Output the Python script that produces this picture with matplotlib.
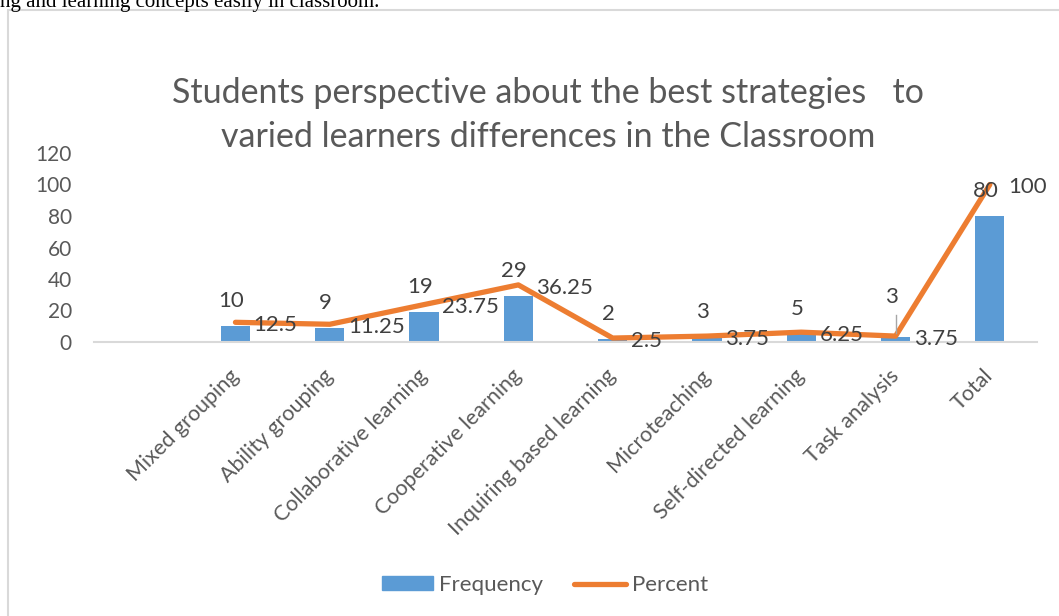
import matplotlib
matplotlib.use("Agg")
import matplotlib.pyplot as plt
from matplotlib.patches import Rectangle
from matplotlib.lines import Line2D

categories = ["", "Mixed grouping", "Ability grouping", "Collaborative learning",
              "Cooperative learning", "Inquiring based learning", "Microteaching",
              "Self-directed learning", "Task analysis", "Total"]
frequency = [None, 10, 9, 19, 29, 2, 3, 5, 3, 80]
percent = [None, 12.5, 11.25, 23.75, 36.25, 2.5, 3.75, 6.25, 3.75, 100]
freq_labels = ["", "10", "9", "19", "29", "2", "3", "5", "3", "80"]
pct_labels = ["", "12.5", "11.25", "23.75", "36.25", "2.5", "3.75", "6.25", "3.75", "100"]
yticks = [0, 20, 40, 60, 80, 100, 120]

BLUE = "#5B9BD5"
ORANGE = "#ED7D31"
TXT = "#595959"
LBL = "#404040"
FONT = ["Lato", "DejaVu Sans"]

plt.rcParams['font.family'] = FONT

W, H = 1059, 616
fig = plt.figure(figsize=(W / 100, H / 100), dpi=100)

# chart frame (light gray border, partly cropped)
fig.add_artist(Rectangle((8 / W, -0.1), 1.2, (H - 10) / H + 0.1, transform=fig.transFigure,
                         fill=False, edgecolor="#D9D9D9", linewidth=1.5))
# cropped document text at the top
fig.text(0, 1 - 7 / H, "ng and learning concepts easily in classroom.", fontsize=15,
         family=["Liberation Serif", "DejaVu Serif"], color="black", va="baseline", ha="left")

ax = fig.add_axes([94 / W, (H - 342) / H, 943 / W, 189 / H])
x = list(range(len(categories)))
bx = [i for i, v in zip(x, frequency) if v is not None]
bv = [v for v in frequency if v is not None]
px = [i for i, v in zip(x, percent) if v is not None]
pv = [v for v in percent if v is not None]

ax.bar(bx, bv, width=0.31, color=BLUE, zorder=2, label="Frequency")
ax.plot(px, pv, color=ORANGE, linewidth=3.8, solid_capstyle="round", zorder=3, label="Percent")

ax.set_xlim(-0.5, len(categories) - 0.5)
ax.set_ylim(0, 120)
ax.set_yticks(yticks)
ax.set_yticklabels([str(t) for t in yticks], fontsize=15, color=TXT)
ax.set_xticks(x)
ax.set_xticklabels(categories, rotation=45, ha="right", va="center",
                   rotation_mode="anchor", fontsize=15.5, color=TXT)
ax.tick_params(axis="x", length=0, pad=22)
ax.tick_params(axis="y", length=0, pad=16)
for s in ["top", "right", "left"]:
    ax.spines[s].set_visible(False)
ax.spines["bottom"].set_color("#D9D9D9")
ax.spines["bottom"].set_linewidth(1.5)
ax.patch.set_alpha(0)

# frequency labels above bars
for i, v, lab in zip(x, frequency, freq_labels):
    if v is None:
        continue
    dy = 18
    if categories[i] == "Task analysis":
        dy = 29
        ax.plot([i, i], [v + 3, v + 14], color="#A6A6A6", linewidth=1, zorder=4)
    ax.annotate(lab, (i, v), xytext=(-3, dy), textcoords="offset points",
                ha="center", va="center", fontsize=16, color=LBL, zorder=5)

# percent labels to the right of line points
for i, v, lab in zip(x, percent, pct_labels):
    if v is None:
        continue
    ax.annotate(lab, (i, v), xytext=(13, -2), textcoords="offset points",
                ha="left", va="center", fontsize=16, color=LBL, zorder=5)

fig.text(548 / W, 1 - 93 / H, "Students perspective about the best strategies   to",
         ha="center", va="center", fontsize=24.5, color=TXT)
fig.text(548 / W, 1 - 137 / H, "varied learners differences in the Classroom",
         ha="center", va="center", fontsize=24.5, color=TXT)

handles = [Rectangle((0, 0), 1, 1, color=BLUE),
           Line2D([0], [0], color=ORANGE, linewidth=3.8, solid_capstyle="round")]
leg = fig.legend(handles, ["Frequency", "Percent"], loc="center",
                 bbox_to_anchor=(545 / W, 1 - 585 / H), ncol=2, frameon=False,
                 fontsize=16, handlelength=2.3, handleheight=0.6, handletextpad=0.3,
                 columnspacing=1.4)
for t in leg.get_texts():
    t.set_color(TXT)

fig.savefig("out.png", dpi=100)
